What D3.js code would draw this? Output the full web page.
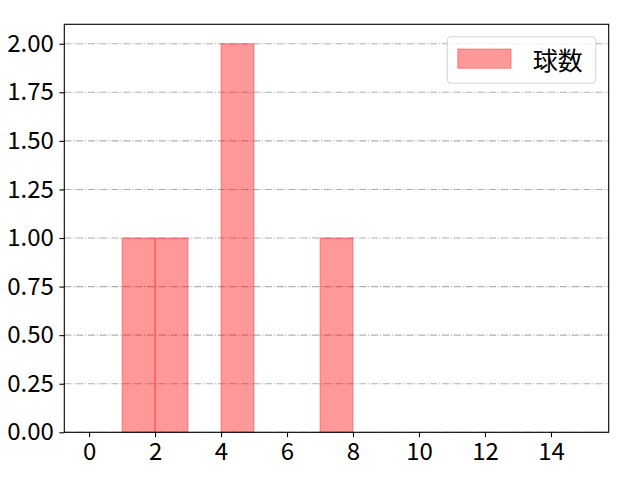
<!DOCTYPE html>
<html><head><meta charset="utf-8">
<script src="https://cdn.jsdelivr.net/npm/d3@7"></script>
<style>body{margin:0;background:#fff}svg{display:block}text{font-family:"Noto Sans CJK JP","DejaVu Sans",sans-serif}</style>
</head><body>
<svg id="c" width="640" height="480"></svg>
<script>
const binStarts = [0,1,2,3,4,5,6,7,8,9,10,11,12,13,14];
const counts    = [0,1,1,0,2,0,0,1,0,0,0,0,0,0,0];
const xTicks = [0,2,4,6,8,10,12,14];
const yTicks = [0,0.25,0.5,0.75,1,1.25,1.5,1.75,2];
const seriesName = "球数";

const svg = d3.select("#c");
const L=64.3, R=608.7, T=24.3, B=432.3;
const x = d3.scaleLinear().domain([-0.75,15.75]).range([L,R]);
const y = d3.scaleLinear().domain([0,2.1]).range([B,T]);

// grid
svg.append("g").selectAll("line").data(yTicks).join("line")
  .attr("x1",L).attr("x2",R).attr("y1",d=>y(d)).attr("y2",d=>y(d))
  .attr("stroke","#b0b0b0").attr("stroke-width",1.1)
  .attr("stroke-dasharray","7.1,1.8,1.1,1.8");

// bars
svg.append("g").selectAll("rect").data(binStarts.map((s,i)=>({s,c:counts[i]}))).join("rect")
  .attr("x",d=>x(d.s)).attr("width",d=>x(d.s+1)-x(d.s))
  .attr("y",d=>y(d.c)).attr("height",d=>y(0)-y(d.c))
  .attr("fill","rgba(255,0,0,0.4)").attr("stroke","rgba(255,0,0,0.25)").attr("stroke-width",1.4);

// axes
const fs = 24;
const xa = svg.append("g").attr("transform",`translate(0,${B})`)
  .call(d3.axisBottom(x).tickValues(xTicks).tickSize(4.9).tickPadding(6).tickFormat(d3.format("d")));
const ya = svg.append("g").attr("transform",`translate(${L},0)`)
  .call(d3.axisLeft(y).tickValues(yTicks).tickSize(4.9).tickPadding(5.5).tickFormat(d3.format(".2f")));
[xa,ya].forEach(a=>{
  a.select(".domain").remove();
  a.selectAll(".tick line").attr("stroke","#000").attr("stroke-width",1.1);
  a.selectAll("text").attr("font-size",fs).attr("fill","#000")
   .style("font-family",'"Noto Sans CJK JP","DejaVu Sans",sans-serif');
});
svg.append("rect").attr("x",L).attr("y",T).attr("width",R-L).attr("height",B-T)
  .attr("fill","none").attr("stroke","#000").attr("stroke-width",1.1);

// legend
const lg = svg.append("g");
lg.append("rect").attr("x",447.3).attr("y",36.7).attr("width",148.4).attr("height",46.6)
  .attr("rx",4).attr("fill","rgba(255,255,255,0.8)").attr("stroke","#d6d6d6").attr("stroke-width",1.1);
lg.append("rect").attr("x",457.7).attr("y",49).attr("width",53.3).attr("height",19.3)
  .attr("fill","rgba(255,0,0,0.4)").attr("stroke","rgba(255,0,0,0.25)").attr("stroke-width",1.4);
lg.append("text").attr("x",532.7).attr("y",69.5).attr("font-size",25).attr("fill","#000").text(seriesName);
</script>
</body></html>
